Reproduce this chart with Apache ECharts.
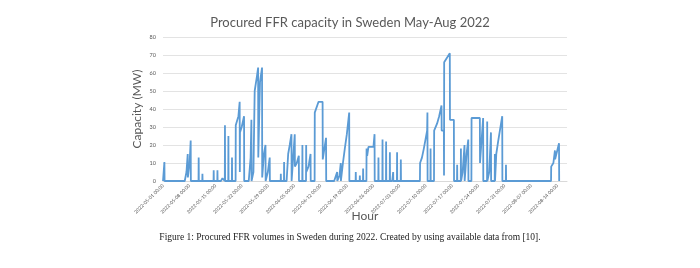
<!DOCTYPE html>
<html>
<head>
<meta charset="utf-8">
<script src="https://cdn.jsdelivr.net/npm/echarts@6/dist/echarts.min.js"></script>
<style>
  html, body { margin: 0; padding: 0; background: #fff; }
  #chart { width: 700px; height: 268px; }
</style>
</head>
<body>
<div id="chart"></div>
<script>
// hours since 2022-05-01 00:00 and procured capacity (MW)
var hours = [
  0, 8, 9, 10,
  139, 150, 158, 159, 170, 177, 178,
  227, 228, 229, 251, 252, 253, 323, 324, 325, 347, 348, 349,
  370, 380, 395, 396, 397, 417, 418, 419, 440, 441, 442,
  464, 465, 482, 490, 491, 492, 503, 518, 519,
  548, 560, 565, 566, 578, 586, 600, 608, 609, 620, 633, 634, 645, 655, 656, 670, 682, 683,
  752, 753, 754, 773, 774, 775,
  790, 800, 810, 821, 822, 842, 843, 855, 868, 869, 890, 891, 892, 914, 915, 916, 930, 943, 944,
  969, 970, 994, 1020, 1021, 1042, 1043,
  1094, 1113, 1114, 1128, 1136, 1137, 1150, 1162, 1175, 1190, 1191,
  1231, 1232, 1233, 1257, 1258, 1259, 1278, 1279, 1280,
  1300, 1301, 1305, 1312, 1313, 1345, 1352, 1353,
  1376, 1377, 1378, 1402, 1403, 1404, 1425, 1426, 1427, 1449, 1450, 1451,
  1465, 1471, 1472, 1495, 1496, 1497, 1519, 1520, 1521,
  1642, 1643, 1655, 1667, 1688, 1690, 1691, 1709, 1710, 1711,
  1732, 1733, 1752, 1765, 1780, 1781, 1795, 1796, 1797, 1833, 1834, 1859, 1860,
  1879, 1880, 1881, 1903, 1904, 1905, 1915, 1927, 1928, 1940, 1951, 1952,
  1971, 1972, 2025, 2026, 2046, 2047, 2071, 2072, 2073, 2085, 2096, 2097,
  2120, 2121, 2122, 2130, 2142, 2168, 2169, 2191, 2192, 2193,
  2480, 2481, 2495, 2505, 2506, 2531, 2532
];
var capacity = [
  0, 0, 10.5, 0,
  0, 5, 15, 2, 10, 22.5, 0,
  0, 13, 0, 0, 4, 0, 0, 6, 0, 0, 6, 0,
  0, 1.5, 0, 31, 0, 0, 25, 0, 0, 13, 0,
  0, 31, 36, 44, 5, 27, 30, 36, 0,
  0, 13, 34, 0, 5, 50, 58, 63, 13, 55, 63, 2, 15, 20, 0, 5, 13, 0,
  0, 4, 0, 0, 10.5, 0,
  0, 15, 20, 26, 0, 26, 8, 10, 14, 0, 0, 20, 0, 0, 20, 5, 8, 15, 0,
  0, 38, 44, 44, 12, 24, 0,
  0, 5, 0, 3, 10, 0, 10, 18, 26, 38, 0,
  0, 5, 0, 0, 3, 0, 0, 7, 0,
  0, 18, 14, 14, 19, 19, 26, 0,
  0, 13, 0, 0, 23, 0, 0, 22, 0, 0, 16, 0,
  0, 5, 0, 0, 16, 0, 0, 12, 0,
  0, 10, 13, 18, 28, 38, 0, 0, 18, 0,
  0, 28, 32, 36, 42, 28, 28, 3, 66, 71, 34, 34, 0,
  0, 9, 0, 0, 18, 0, 5, 20, 0, 15, 23, 0,
  0, 35, 35, 10, 35, 0, 0, 33, 0, 5, 27, 0,
  0, 15, 0, 15, 22, 36, 0, 0, 9, 0,
  0, 8, 10, 17, 12, 21, 0
];
var weekLabels = [
  '2022-05-01 00:00', '2022-05-08 00:00', '2022-05-15 00:00', '2022-05-22 00:00',
  '2022-05-29 00:00', '2022-06-05 00:00', '2022-06-12 00:00', '2022-06-19 00:00',
  '2022-06-26 00:00', '2022-07-03 00:00', '2022-07-10 00:00', '2022-07-17 00:00',
  '2022-07-24 00:00', '2022-07-31 00:00', '2022-08-07 00:00', '2022-08-14 00:00'
];

var seriesData = hours.map(function (h, i) { return [h, capacity[i]]; });

var chart = echarts.init(document.getElementById('chart'));
chart.setOption({
  animation: false,
  backgroundColor: '#fff',
  title: {
    text: 'Procured FFR capacity in Sweden May-Aug 2022',
    left: 'center',
    top: 11,
    textStyle: { fontFamily: 'Lato', fontSize: 13, fontWeight: 'normal', color: '#595959' }
  },
  grid: { left: 163, right: 133, top: 37, bottom: 87 },
  xAxis: {
    type: 'value',
    min: 0,
    max: 2582,
    interval: 168,
    name: 'Hour',
    nameLocation: 'middle',
    nameGap: 29,
    nameMoveOverlap: false,
    nameTextStyle: { fontFamily: 'Lato', fontSize: 12, color: '#595959' },
    axisLine: { show: true, lineStyle: { color: '#d9d9d9' } },
    axisTick: { show: false },
    splitLine: { show: false },
    axisLabel: {
      rotate: 45,
      margin: 4,
      fontFamily: 'Lato',
      fontSize: 4.8,
      color: '#595959',
      showMaxLabel: false,
      formatter: function (v) {
        var i = v / 168;
        return (i % 1 === 0 && weekLabels[i]) ? weekLabels[i] : '';
      }
    }
  },
  yAxis: {
    type: 'value',
    min: 0,
    max: 80,
    interval: 10,
    name: 'Capacity (MW)',
    nameLocation: 'middle',
    nameGap: 20,
    nameMoveOverlap: false,
    nameTextStyle: { fontFamily: 'Lato', fontSize: 12, color: '#595959' },
    axisLine: { show: false },
    axisTick: { show: false },
    axisLabel: { fontFamily: 'Lato', fontSize: 5.5, color: '#595959', margin: 7 },
    splitLine: { lineStyle: { color: '#e3e3e3', width: 1 } }
  },
  series: [{
    type: 'line',
    data: seriesData,
    showSymbol: false,
    lineStyle: { color: '#5b9bd5', width: 1.8 }
  }],
  graphic: [{
    type: 'text',
    left: 'center',
    top: 232,
    style: {
      text: 'Figure 1: Procured FFR volumes in Sweden during 2022. Created by using available data from [10].',
      font: '9.5px "Liberation Serif"',
      fill: '#222'
    }
  }]
});
</script>
</body>
</html>
